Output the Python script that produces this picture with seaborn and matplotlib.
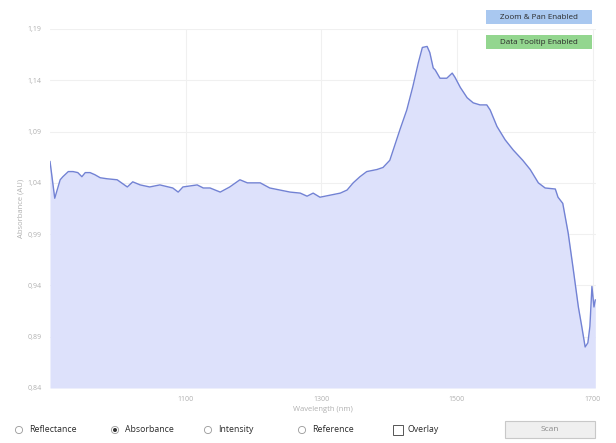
import matplotlib
matplotlib.use("Agg")
import matplotlib.pyplot as plt
import matplotlib.patches as mpatches
import numpy as np
import pandas as pd
import seaborn as sns

# Absorbance spectrum (wavelength in nm, absorbance in AU)
wavelength = [900, 907, 915, 919, 927, 934, 941, 947, 952, 959, 966, 974, 984, 999,
              1014, 1022, 1033, 1047, 1062, 1081, 1089, 1096, 1117, 1126, 1136, 1151,
              1165, 1180, 1191, 1210, 1224, 1239, 1254, 1269, 1279, 1288, 1298, 1313,
              1328, 1338, 1347, 1357, 1367, 1382, 1391, 1401, 1406, 1416, 1426, 1435,
              1443, 1449, 1456, 1460, 1465, 1468, 1475, 1485, 1493, 1497, 1505, 1515,
              1524, 1534, 1544, 1549, 1559, 1571, 1583, 1597, 1608, 1620, 1630, 1645,
              1649, 1656, 1664, 1671, 1679, 1684, 1689, 1693, 1696, 1699, 1702, 1704]
absorbance = [1.061, 1.025, 1.043, 1.046, 1.051, 1.051, 1.050, 1.046, 1.050, 1.050,
              1.048, 1.045, 1.044, 1.043, 1.036, 1.041, 1.038, 1.036, 1.038, 1.035,
              1.031, 1.036, 1.038, 1.035, 1.035, 1.031, 1.036, 1.043, 1.040, 1.040,
              1.035, 1.033, 1.031, 1.030, 1.027, 1.030, 1.026, 1.028, 1.030, 1.033,
              1.040, 1.046, 1.051, 1.053, 1.055, 1.062, 1.072, 1.092, 1.111, 1.134,
              1.157, 1.172, 1.173, 1.167, 1.152, 1.150, 1.142, 1.142, 1.147, 1.143,
              1.133, 1.123, 1.118, 1.116, 1.116, 1.111, 1.095, 1.082, 1.072, 1.062,
              1.053, 1.040, 1.035, 1.034, 1.026, 1.020, 0.991, 0.958, 0.919, 0.900,
              0.880, 0.884, 0.900, 0.939, 0.919, 0.926]

x_ticks = [1100, 1300, 1500, 1700]
y_ticks = [0.84, 0.89, 0.94, 0.99, 1.04, 1.09, 1.14, 1.19]
y_tick_labels = ["0,84", "0,89", "0,94", "0,99", "1,04", "1,09", "1,14", "1,19"]

mode_labels = ["Reflectance", "Absorbance", "Intensity", "Reference"]
selected_mode = "Absorbance"

df = pd.DataFrame({"Wavelength (nm)": wavelength, "Absorbance (AU)": absorbance})

sns.set_theme(style="white")
plt.rcParams["font.family"] = ["Open Sans", "DejaVu Sans"]

fig = plt.figure(figsize=(6.16, 4.43), dpi=100)
ax = fig.add_axes([50 / 616, 1 - 388 / 443, 546 / 616, 359 / 443])

line_color = "#7282d4"
fill_color = "#dde1fb"

ax.fill_between(df["Wavelength (nm)"], df["Absorbance (AU)"], 0.84,
                color=fill_color, lw=0, zorder=1)
sns.lineplot(data=df, x="Wavelength (nm)", y="Absorbance (AU)", ax=ax,
             color=line_color, lw=1.0, zorder=2)

ax.set_xlim(900, 1705)
ax.set_ylim(0.84, 1.19)
ax.set_xticks(x_ticks)
ax.set_yticks(y_ticks)
ax.set_yticklabels(y_tick_labels)
ax.tick_params(axis="both", labelsize=5, colors="#b0b0b0", length=0, pad=6)
ax.grid(True, color="#f0f0f0", lw=0.8)
ax.set_axisbelow(True)
for s in ax.spines.values():
    s.set_visible(False)
ax.set_xlabel("Wavelength (nm)", fontsize=5.5, color="#b0b0b0", labelpad=2)
ax.set_ylabel("Absorbance (AU)", fontsize=5.5, color="#b0b0b0", labelpad=2)

# Overlay in pixel coordinates for the controls around the chart
ui = fig.add_axes([0, 0, 1, 1], facecolor="none")
ui.set_xlim(0, 616)
ui.set_ylim(443, 0)
ui.axis("off")

# Status badges
ui.add_patch(mpatches.Rectangle((486, 10), 106, 14, facecolor="#a9c8f0", edgecolor="none"))
ui.text(539, 17, "Zoom & Pan Enabled", fontsize=5.8, color="#2a2a2a", ha="center", va="center")
ui.add_patch(mpatches.Rectangle((486, 35), 106, 14, facecolor="#93d68f", edgecolor="none"))
ui.text(539, 42, "Data Tooltip Enabled", fontsize=5.8, color="#2a2a2a", ha="center", va="center")

# Mode selectors
row_y = 430
radio_x = [19, 115, 208, 302]
for rx, label in zip(radio_x, mode_labels):
    ui.add_patch(mpatches.Circle((rx, row_y), 3.6, facecolor="white", edgecolor="#9a9a9a", lw=0.6))
    if label == selected_mode:
        ui.add_patch(mpatches.Circle((rx, row_y), 2.0, facecolor="#333333", edgecolor="none"))
    ui.text(rx + 10, row_y, label, fontsize=6.3, color="#2a2a2a", ha="left", va="center")

ui.add_patch(mpatches.Rectangle((393, row_y - 5), 10, 10, facecolor="white", edgecolor="#555555", lw=0.7))
ui.text(407, row_y, "Overlay", fontsize=6.3, color="#2a2a2a", ha="left", va="center")

ui.add_patch(mpatches.Rectangle((505, 421), 90, 17, facecolor="#efefef", edgecolor="#c8c8c8", lw=0.8))
ui.text(550, 429.5, "Scan", fontsize=6.0, color="#8a8a8a", ha="center", va="center")

fig.savefig("out.png", dpi=100)
